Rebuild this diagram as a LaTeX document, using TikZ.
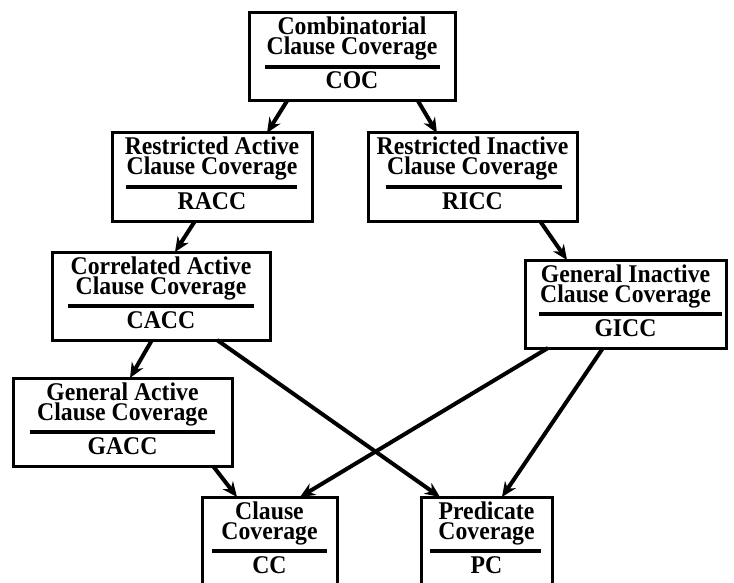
\documentclass[tikz,border=0pt]{standalone}
\usepackage{fontspec}
\setmainfont{Liberation Serif}[FakeStretch=0.93]
\usetikzlibrary{arrows.meta}
\tikzset{
  critframe/.style={draw=black, line width=3pt, rectangle, inner sep=0pt, outer sep=0pt, fill=white},
  crittext/.style={font=\bfseries\fontsize{25.5}{20}\selectfont, inner sep=0pt, anchor=base, align=center},
  critrule/.style={line width=4pt},
  critarrow/.style={line width=4pt, -{Stealth[length=15pt,width=13pt]}},
}
% #1 name, #2 left, #3 right, #4 top, #5 line1, #6 line2, #7 acronym, #8 rule left, #9 rule right
\newcommand\critbox[9]{%
  \node[critframe, minimum width={(#3-#2)*1pt}, minimum height=88pt] (#1) at ({(#2+#3)/2},{#4+44}) {};
  \node[crittext] (#1-t) at ({(#2+#3)/2},{#4+42}) {#5\\#6};
  \node[crittext] (#1-c) at ({(#2+#3)/2},{#4+76}) {#7};
  \coordinate (#1-rl) at (#8,{#4+54});
  \coordinate (#1-rr) at (#9,{#4+54});
  \draw[critrule] (#1-rl) -- (#1-rr);
}
\begin{document}
\begin{tikzpicture}[x=1pt,y=-1pt]
  \fill[white] (0,0) rectangle (734,583);
  \useasboundingbox (0,0) rectangle (734,583);

  \critbox{COC}{249}{455}{13}{Combinatorial}{Clause Coverage}{COC}{265}{440}
  \critbox{RACC}{112}{312}{133}{Restricted Active}{Clause Coverage}{RACC}{126}{297}
  \critbox{RICC}{368}{577}{133}{Restricted Inactive}{Clause Coverage}{RICC}{386}{562}
  \critbox{CACC}{52}{270}{252}{Correlated Active}{Clause Coverage}{CACC}{68}{254}
  \critbox{GICC}{525}{726}{260}{General Inactive}{Clause Coverage}{GICC}{539}{722}
  \critbox{GACC}{13}{232}{378}{General Active}{Clause Coverage}{GACC}{30}{215}
  \critbox{CC}{202}{337}{497}{Clause}{Coverage}{CC}{212}{327}
  \critbox{PC}{421}{552}{497}{Predicate}{Coverage}{PC}{430}{541}

  \draw[critarrow] ([xshift=38pt]COC.south west) -- ([xshift=155pt]RACC.north west);
  \draw[critarrow] ([xshift=169pt]COC.south west) -- ([xshift=69pt]RICC.north west);
  \draw[critarrow] ([xshift=83pt]RACC.south west) -- ([xshift=123pt]CACC.north west);
  \draw[critarrow] ([xshift=172pt]RICC.south west) -- ([xshift=42pt]GICC.north west);
  \draw[critarrow] ([xshift=100pt]CACC.south west) -- ([xshift=117pt]GACC.north west);
  \draw[critarrow] ([xshift=165pt]CACC.south west) -- ([xshift=19pt]PC.north west);
  \draw[critarrow] ([xshift=23pt]GICC.south west) -- ([xshift=98pt]CC.north west);
  \draw[critarrow] ([xshift=78pt]GICC.south west) -- ([xshift=81pt]PC.north west);
  \draw[critarrow] ([xshift=200pt]GACC.south west) -- ([xshift=35pt]CC.north west);
\end{tikzpicture}
\end{document}
